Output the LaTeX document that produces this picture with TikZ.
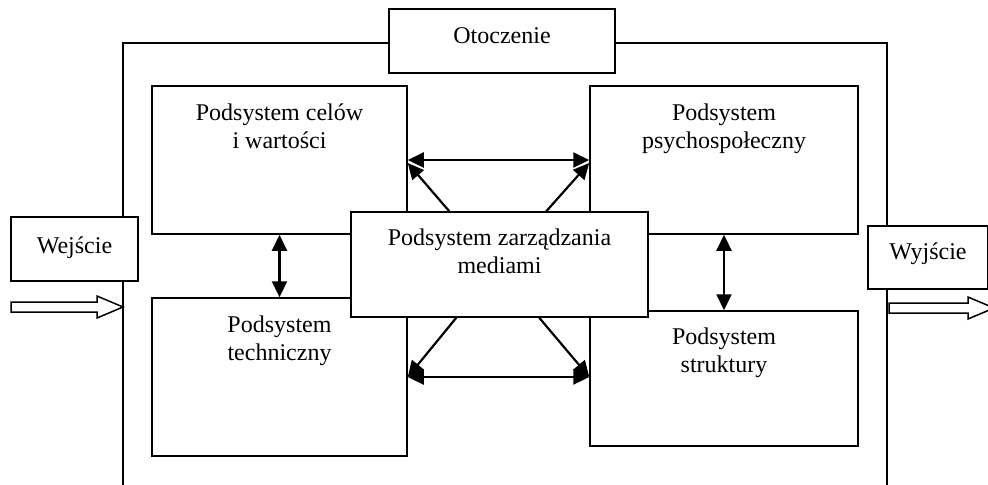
\documentclass[tikz,border=0pt]{standalone}
\usepackage{fontspec}
\setmainfont{Liberation Serif}
\usetikzlibrary{arrows.meta, calc}
\tikzset{
    sys-box/.style={
        draw, fill=white, line width=0.75pt, inner sep=0pt
    },
    sys-text/.style={
        anchor=north, align=center, inner sep=0pt, font=\fontsize{12}{14}\selectfont
    },
    sys-link/.style={
        line width=1.1pt, {Triangle[length=8pt,width=7.5pt]}-{Triangle[length=8pt,width=7.5pt]}
    },
    sys-flow/.style={
        line width=1.1pt, -{Triangle[length=8pt,width=7.5pt]}
    },
}

\begin{document}
\begin{tikzpicture}[x=0.5pt, y=-0.5pt]

        \useasboundingbox (0,0) rectangle (988,484);
        \clip (0,0) rectangle (988,484);

        % FRAME
        \coordinate (FRAMEBL) at (123,490);
        \coordinate (FRAMETL) at (123,43);
        \coordinate (FRAMETR) at (887,43);
        \coordinate (FRAMEBR) at (887,490);
        \draw[line width=0.75pt] (FRAMEBL) -- (FRAMETL) -- (FRAMETR) -- (FRAMEBR);

        % ENVIRONMENT, INPUT, OUTPUT
        \node[sys-box, minimum width=113pt, minimum height=32pt]   (ENV) at (502,41)    {};
        \node[sys-box, minimum width=63.5pt, minimum height=32pt]  (IN)  at (74.5,249)  {};
        \node[sys-box, minimum width=60pt, minimum height=31.5pt]  (OUT) at (928,257.5) {};
        \node[sys-text] (ENVTXT) at ($(ENV.north)+(0,19)$) {Otoczenie};
        \node[sys-text] (INTXT)  at ($(IN.north)+(0,20)$)  {Wejście};
        \node[sys-text] (OUTTXT) at ($(OUT.north)+(0,17)$) {Wyjście};

        % SUBSYSTEMS
        \node[sys-box, minimum width=127.5pt, minimum height=74pt]  (GOALS)  at (279.5,160)  {};
        \node[sys-box, minimum width=134pt, minimum height=74pt]    (PSYCH)  at (724,160)    {};
        \node[sys-box, minimum width=127.5pt, minimum height=79pt]  (TECH)   at (279.5,377)  {};
        \node[sys-box, minimum width=134pt, minimum height=67.5pt]  (STRUCT) at (724,378.5)  {};
        \node[sys-box, minimum width=148.5pt, minimum height=52.5pt] (MEDIA) at (499.5,264.5) {};

        \node[sys-text] (GOALSTXT)  at ($(GOALS.north)+(0,18)$)  {Podsystem celów\\i wartości};
        \node[sys-text] (PSYCHTXT)  at ($(PSYCH.north)+(0,18)$)  {Podsystem\\psychospołeczny};
        \node[sys-text] (TECHTXT)   at ($(TECH.north)+(0,18)$)   {Podsystem\\techniczny};
        \node[sys-text] (STRUCTTXT) at ($(STRUCT.north)+(0,17)$) {Podsystem\\struktury};
        \node[sys-text] (MEDIATXT)  at ($(MEDIA.north)+(0,17)$)  {Podsystem zarządzania\\mediami};

        % LINKS
        \draw[sys-link] (GOALS.south) -- (TECH.north);
        \draw[sys-link] (PSYCH.south) -- (STRUCT.north);
        \draw[sys-link] (GOALS.east) -- (GOALS.east -| PSYCH.west);
        \draw[sys-link] (TECH.east) -- (TECH.east -| STRUCT.west);

        % LINKS FROM MEDIA
        \draw[sys-flow] ($(MEDIA.north west)+(99,0)$)  -- ($(GOALS.east)+(0,3)$);
        \draw[sys-flow] ($(MEDIA.north west)+(196,0)$) -- ($(GOALS.east -| PSYCH.west)+(0,3)$);
        \draw[sys-flow] ($(MEDIA.south west)+(106,0)$) -- (TECH.east);
        \draw[sys-flow] ($(MEDIA.south west)+(189,0)$) -- (TECH.east -| STRUCT.west);

        % BLOCK ARROWS
        \coordinate (INTIP)  at (123,307);
        \coordinate (OUTTIP) at (994,308);
        \draw[line width=0.75pt] (INTIP) -- ++(-26,-11) -- ++(0,6) -- ++(-86,0) -- ++(0,10)
            -- ++(86,0) -- ++(0,6) -- cycle;
        \draw[line width=0.75pt] (OUTTIP) -- ++(-26,-11) -- ++(0,6) -- ++(-79,0) -- ++(0,10)
            -- ++(79,0) -- ++(0,6) -- cycle;

    \end{tikzpicture}
\end{document}
